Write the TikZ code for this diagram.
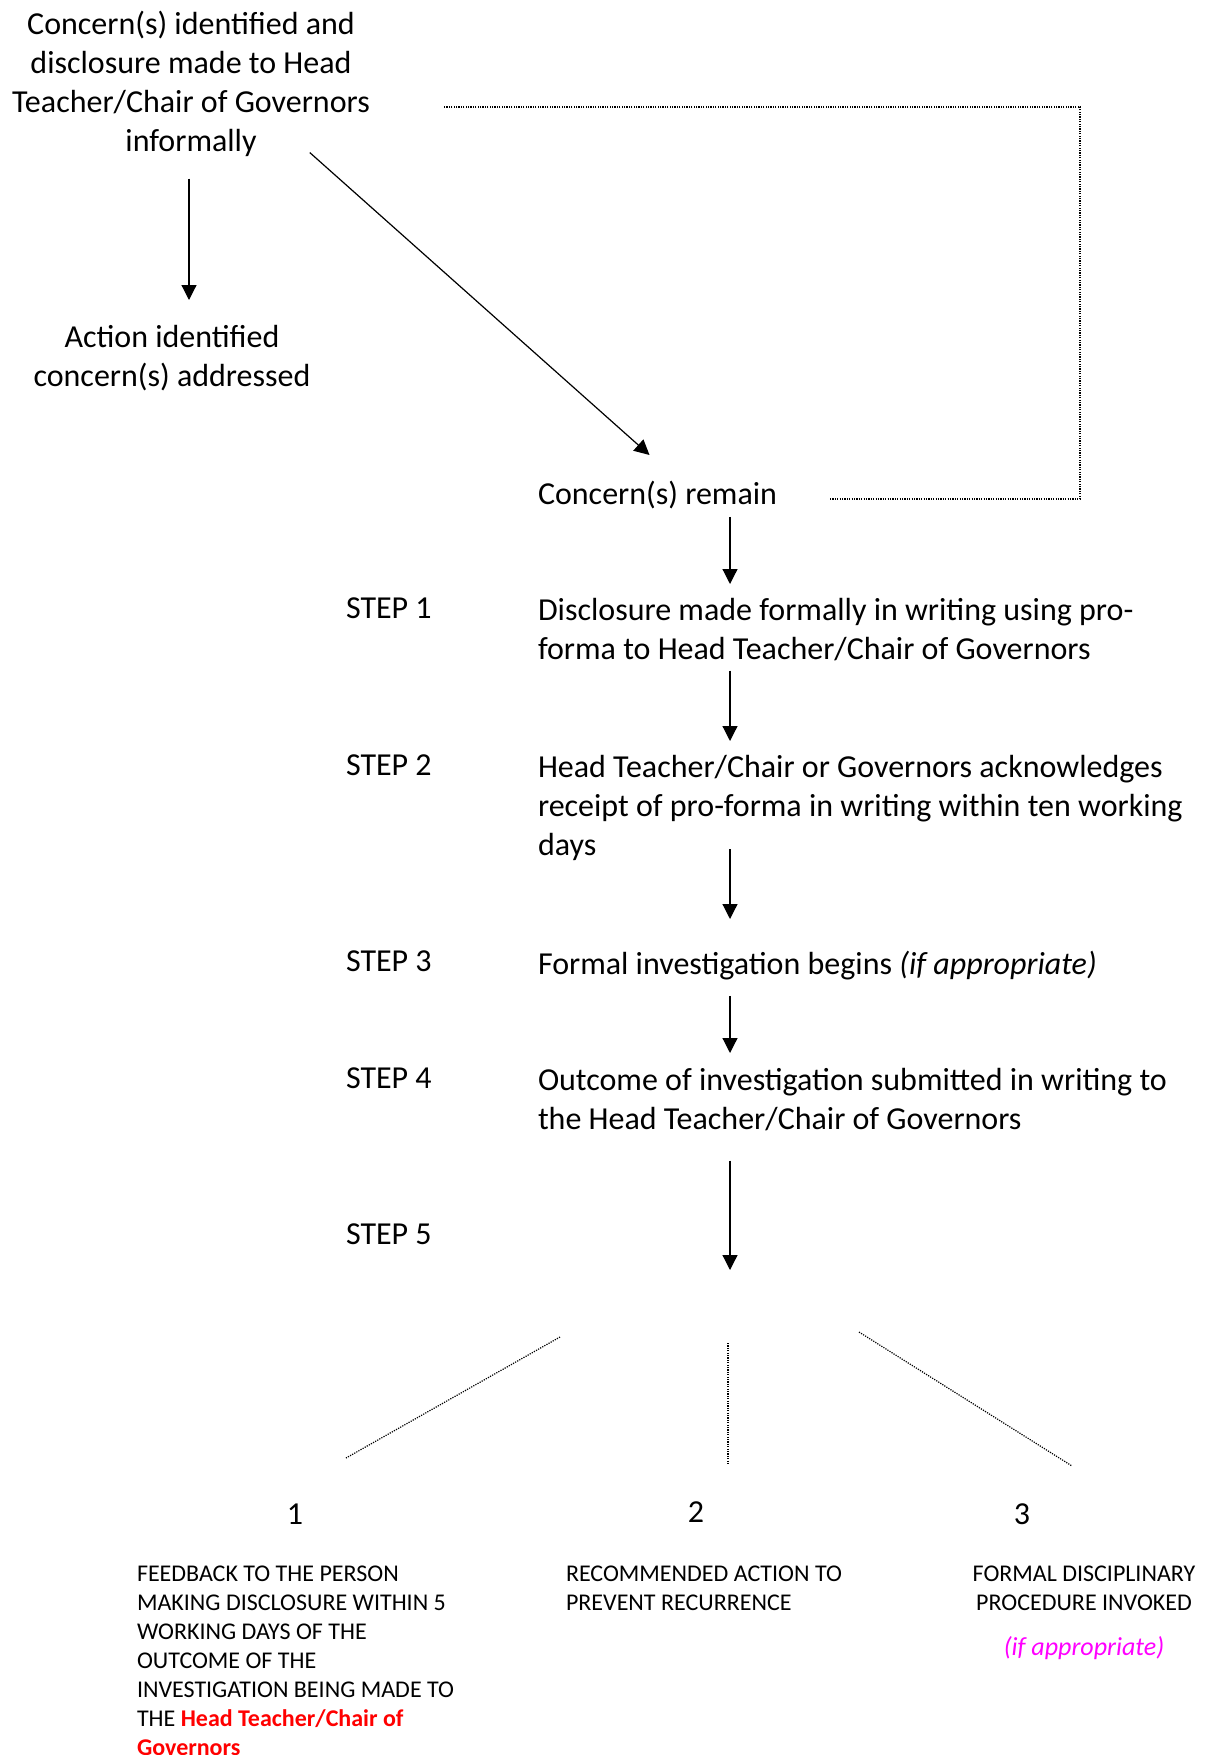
\documentclass[tikz,border=0pt]{standalone}
\usepackage{fontspec}
\setmainfont{Carlito}
\usepackage{tikz}
\usetikzlibrary{arrows.meta,positioning,calc}
\definecolor{alertred}{HTML}{FF0000}
\definecolor{notepink}{HTML}{FF00FF}

\begin{document}
\begin{tikzpicture}[x=0.5pt,y=-0.5pt,>={Triangle[length=7.5pt,width=7.5pt]},
  every node/.style={inner sep=0pt,outer sep=0pt},
  flowtext/.style={font=\fontsize{16}{19.5}\selectfont,align=left,anchor=north west},
  steplabel/.style={font=\fontsize{16}{19.5}\selectfont,anchor=north west},
  number/.style={font=\fontsize{16}{19.5}\selectfont,anchor=north},
  outcome/.style={font=\fontsize{12}{14.5}\selectfont,align=left,anchor=north west},
  arr/.style={->,line width=0.6pt},
  dots/.style={dash pattern=on 0.6pt off 0.6pt,line width=0.6pt}]
  \clip (0,0) rectangle (1204,1755);
  % informal stage
  \node[flowtext,align=center,anchor=north] (informal) at (191,11) {Concern(s) identified and\\disclosure made to Head\\Teacher/Chair of Governors\\informally};
  \node[flowtext,align=center,anchor=north] (addressed) at (172,325) {Action identified\\concern(s) addressed};
  \node[flowtext] (remain) at (538,481) {Concern(s) remain};
  % formal steps
  \coordinate (spine) at (730,0);
  \node[steplabel] (l1) at (346,598) {STEP 1};
  \node[flowtext] (s1) at (538,598) {Disclosure made formally in writing using pro-\\forma to Head Teacher/Chair of Governors};
  \node[steplabel] (l2) at (346,755) {STEP 2};
  \node[flowtext] (s2) at (538,755) {Head Teacher/Chair or Governors acknowledges\\receipt of pro-forma in writing within ten working\\days};
  \node[steplabel] (l3) at (346,951) {STEP 3};
  \node[flowtext] (s3) at (538,951) {Formal investigation begins \textit{(if appropriate)}};
  \node[steplabel] (l4) at (346,1068) {STEP 4};
  \node[flowtext] (s4) at (538,1068) {Outcome of investigation submitted in writing to\\the Head Teacher/Chair of Governors};
  \node[steplabel] (l5) at (346,1224) {STEP 5};
  \coordinate (fork) at (730,1270);
  % outcomes
  \node[number] (n1) at (295,1504) {1};
  \node[number] (n2) at (696,1502) {2};
  \node[number] (n3) at (1022,1504) {3};
  \node[outcome] (o1) at (137,1566) {FEEDBACK TO THE PERSON\\MAKING DISCLOSURE WITHIN 5\\WORKING DAYS OF THE\\OUTCOME OF THE\\INVESTIGATION BEING MADE TO\\THE \textcolor{alertred}{\bfseries Head Teacher/Chair of}\\\textcolor{alertred}{\bfseries Governors}};
  \node[outcome] (o2) at (566,1566) {RECOMMENDED ACTION TO\\PREVENT RECURRENCE};
  \node[outcome,align=center,anchor=north] (o3) at (1084,1566) {FORMAL DISCIPLINARY\\PROCEDURE INVOKED};
  \node[outcome,anchor=north,text=notepink,font=\fontsize{13}{15.5}\selectfont\itshape] (o3note) at (1084,1636) {(if appropriate)};
  % connectors
  \draw[arr,shorten <=11pt,shorten >=12.5pt] ([xshift=-1pt]informal.south) -- ([xshift=-1pt]informal.south |- addressed.north);
  \draw[arr] ([xshift=-30pt,yshift=2pt]informal.south east) -- ([shift={(-4pt,13pt)}]remain.north);
  \coordinate (loop) at (1080,107);
  \draw[dots,shorten <=26.5pt,shorten >=36.5pt] ([yshift=-2pt]remain.east) -| (loop) -- (loop -| informal.east);
  \draw[arr,shorten <=4pt,shorten >=7pt] (remain.south -| spine) -- (s1.north -| spine);
  \draw[arr,shorten <=5pt,shorten >=7pt] (s1.south -| spine) -- (s2.north -| spine);
  \draw[arr,shorten <=-5.5pt,shorten >=16pt] (s2.south -| spine) -- (s3.north -| spine);
  \draw[arr,shorten <=8pt,shorten >=7.5pt] (s3.south -| spine) -- (s4.north -| spine);
  \draw[arr,shorten <=15pt] (s4.south -| spine) -- (fork);
  \coordinate (b1a) at (560,1337);
  \coordinate (b1b) at (346,1458);
  \coordinate (b2a) at (728,1343);
  \coordinate (b2b) at (728,1464);
  \coordinate (b3a) at (859,1332);
  \coordinate (b3b) at (1072,1466);
  \draw[dots] (b1a) -- (b1b);
  \draw[dots] (b2a) -- (b2b);
  \draw[dots] (b3a) -- (b3b);
\end{tikzpicture}
\end{document}
